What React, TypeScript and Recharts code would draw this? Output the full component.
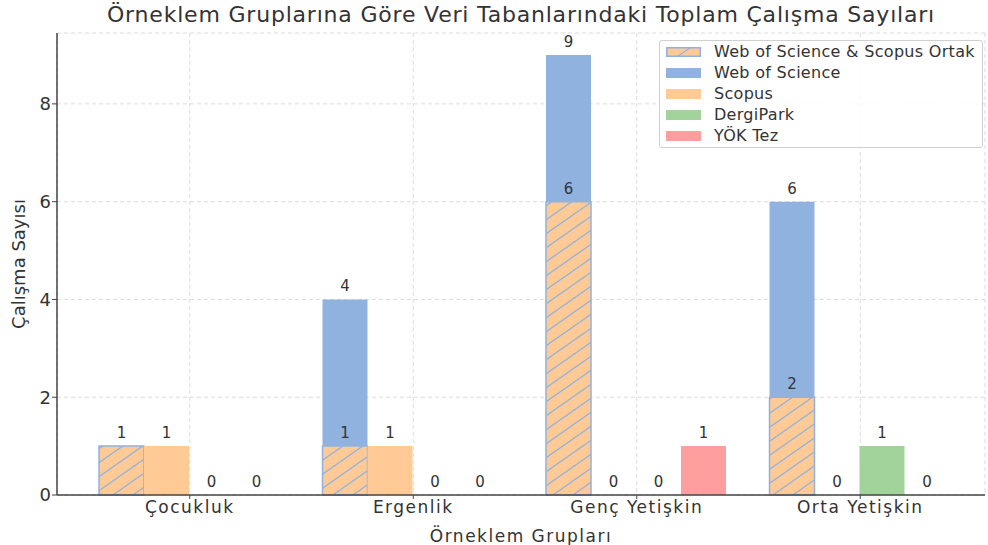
import React from 'react';
import { BarChart, Bar, XAxis, YAxis, CartesianGrid, LabelList } from 'recharts';

const groups = ['Çocukluk', 'Ergenlik', 'Genç Yetişkin', 'Orta Yetişkin'];
const wosCounts = [1, 4, 9, 6];
const ortakCounts = [1, 1, 6, 2];
const scopusCounts = [1, 1, 0, 0];
const dergiParkCounts = [0, 0, 0, 1];
const yokTezCounts = [0, 0, 1, 0];
const yTicks = [0, 2, 4, 6, 8];

const BLUE = '#8fb2df';
const ORANGE = '#ffca96';
const GREEN = '#a2d39b';
const RED = '#ff9e9e';
const FONT = '"DejaVu Sans", sans-serif';
const TEXT = '#333';

const data = groups.map((g, i) => ({
  group: g,
  ortak: ortakCounts[i],
  // when ortak equals the WoS total the two labels would overlap, keep only one
  ortakLabel: ortakCounts[i] < wosCounts[i] ? String(ortakCounts[i]) : '',
  wosRest: wosCounts[i] - ortakCounts[i],
  wos: wosCounts[i],
  scopus: scopusCounts[i],
  dergipark: dergiParkCounts[i],
  yok: yokTezCounts[i],
}));

const legendItems = [
  { name: 'Web of Science & Scopus Ortak', color: ORANGE, hatch: true },
  { name: 'Web of Science', color: BLUE },
  { name: 'Scopus', color: ORANGE },
  { name: 'DergiPark', color: GREEN },
  { name: 'YÖK Tez', color: RED },
];

const labelStyle = { fill: TEXT, fontSize: 15, fontFamily: FONT };

const App: React.FC = () => {
  return (
    <div style={{ position: 'absolute', left: 0, top: 0, width: 988, height: 545, fontFamily: FONT, background: '#fff' }}>
      <div
        style={{
          position: 'absolute',
          left: 57,
          width: 928,
          top: 2,
          textAlign: 'center',
          fontSize: 22,
          letterSpacing: 0.8,
          color: TEXT,
        }}
      >
        Örneklem Gruplarına Göre Veri Tabanlarındaki Toplam Çalışma Sayıları
      </div>
      <BarChart
        width={988}
        height={545}
        data={data}
        margin={{ top: 33, right: 3, bottom: 0, left: 17 }}
        barCategoryGap={21}
        barGap={0}
      >
        <defs>
          <pattern id="hatch" patternUnits="userSpaceOnUse" width="20" height="14">
            <rect width="20" height="14" fill={ORANGE} />
            <path d="M0,14 L20,0 M-5,3.5 L5,-3.5 M15,17.5 L25,10.5" stroke={BLUE} strokeWidth={1.3} />
          </pattern>
        </defs>
        <CartesianGrid stroke="#dcdcdc" strokeDasharray="4 3" />
        <XAxis
          dataKey="group"
          padding={{ left: 21, right: 13 }}
          height={50}
          tickSize={4}
          tick={{ fill: TEXT, fontSize: 17, fontFamily: FONT, letterSpacing: 1.5 }}
          axisLine={{ stroke: '#444', strokeWidth: 1.5 }}
          tickLine={{ stroke: '#444' }}
          label={{
            value: 'Örneklem Grupları',
            position: 'insideBottom',
            offset: 3,
            fill: TEXT,
            fontSize: 17,
            fontFamily: FONT,
            letterSpacing: 1.5,
          }}
        />
        <YAxis
          width={40}
          domain={[0, 9.45]}
          ticks={yTicks}
          tickSize={5}
          tickMargin={1}
          tick={{ fill: TEXT, fontSize: 18, fontFamily: FONT }}
          axisLine={{ stroke: '#444', strokeWidth: 1.5 }}
          tickLine={{ stroke: '#444' }}
          label={{
            value: 'Çalışma Sayısı',
            angle: -90,
            position: 'insideLeft',
            offset: 2,
            style: { textAnchor: 'middle' },
            fill: TEXT,
            fontSize: 18,
            fontFamily: FONT,
          }}
        />
        <Bar dataKey="ortak" stackId="wos" fill="url(#hatch)" stroke={BLUE} strokeWidth={1.5} minPointSize={0.01} isAnimationActive={false}>
          <LabelList dataKey="ortakLabel" position="top" offset={8} style={labelStyle} />
        </Bar>
        <Bar dataKey="wosRest" stackId="wos" fill={BLUE} minPointSize={0.01} isAnimationActive={false}>
          <LabelList dataKey="wos" position="top" offset={8} style={labelStyle} />
        </Bar>
        <Bar dataKey="scopus" fill={ORANGE} minPointSize={0.01} isAnimationActive={false}>
          <LabelList dataKey="scopus" position="top" offset={8} style={labelStyle} />
        </Bar>
        <Bar dataKey="dergipark" fill={GREEN} minPointSize={0.01} isAnimationActive={false}>
          <LabelList dataKey="dergipark" position="top" offset={8} style={labelStyle} />
        </Bar>
        <Bar dataKey="yok" fill={RED} minPointSize={0.01} isAnimationActive={false}>
          <LabelList dataKey="yok" position="top" offset={8} style={labelStyle} />
        </Bar>
      </BarChart>
      <div
        style={{
          position: 'absolute',
          left: 659,
          top: 40,
          width: 324,
          height: 108,
          boxSizing: 'border-box',
          border: '1px solid #d0d0d0',
          borderRadius: 3,
          background: 'rgba(255,255,255,0.85)',
          padding: '0 0 0 6px',
        }}
      >
        {legendItems.map((it) => (
          <div key={it.name} style={{ display: 'flex', alignItems: 'center', height: 21, fontSize: 16, letterSpacing: 0.3, color: TEXT }}>
            <svg width={35} height={10} style={{ marginRight: 13 }}>
              {it.hatch ? (
                <>
                  <rect x={0.75} y={0.75} width={33.5} height={8.5} fill={ORANGE} stroke={BLUE} strokeWidth={1.5} />
                  <path d="M12,9 L24,1" stroke={BLUE} strokeWidth={1.2} />
                </>
              ) : (
                <rect x={0} y={0} width={35} height={10} fill={it.color} />
              )}
            </svg>
            <span>{it.name}</span>
          </div>
        ))}
      </div>
    </div>
  );
};

export default App;
